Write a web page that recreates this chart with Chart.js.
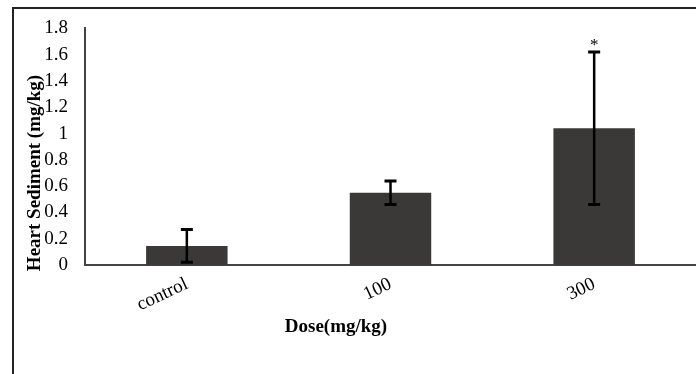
<!DOCTYPE html>
<html>
<head>
<meta charset="utf-8">
<script src="https://cdn.jsdelivr.net/npm/chart.js@4"></script>
<style>
  html, body { margin: 0; padding: 0; background: #fff; overflow: hidden; }
  #frame { position: absolute; left: 12px; top: 7px; width: 720px; height: 400px;
           border-left: 2px solid #222; border-top: 2px solid #222; }
  #wrap { position: absolute; left: 0; top: 0; width: 696px; height: 374px; }
</style>
</head>
<body>
<div id="frame"></div>
<div id="wrap"><canvas id="dose-chart" width="696" height="374"></canvas></div>
<script>
const doses = ['control', '100', '300'];
const sedimentMean = [0.145, 0.55, 1.04];
const sedimentErr = [0.125, 0.09, 0.58];
const signifMarks = ['', '', '*'];

const serif = '"Liberation Serif", "Times New Roman", serif';

// error bars + significance star, drawn from the data through the scales
const errorBars = {
    id: 'errorBars',
    afterDatasetsDraw(chart) {
        const { ctx, scales: { x, y } } = chart;
        ctx.save();
        ctx.strokeStyle = '#000';
        sedimentMean.forEach((m, i) => {
            const cx = x.getPixelForValue(i);
            const top = y.getPixelForValue(m + sedimentErr[i]);
            const bot = y.getPixelForValue(m - sedimentErr[i]);
            ctx.lineWidth = 2.5;
            ctx.beginPath();
            ctx.moveTo(cx, top); ctx.lineTo(cx, bot);
            ctx.stroke();
            ctx.lineWidth = 3;
            ctx.beginPath();
            ctx.moveTo(cx - 6, top); ctx.lineTo(cx + 6, top);
            ctx.moveTo(cx - 6, bot); ctx.lineTo(cx + 6, bot);
            ctx.stroke();
            if (signifMarks[i]) {
                ctx.fillStyle = '#000';
                ctx.font = '17px ' + serif;
                ctx.textAlign = 'center';
                ctx.textBaseline = 'bottom';
                ctx.fillText(signifMarks[i], cx, top + 2);
            }
        });
        ctx.restore();
    },
    afterDraw(chart) {
        const { ctx } = chart;
        ctx.save();
        ctx.fillStyle = '#000';
        ctx.font = 'bold 19px ' + serif;
        ctx.textAlign = 'center';
        ctx.textBaseline = 'middle';
        ctx.fillText('Dose(mg/kg)', 336, 327);
        ctx.translate(35, 173);
        ctx.rotate(-Math.PI / 2);
        ctx.fillText('Heart Sediment (mg/kg)', 0, 0);
        ctx.restore();
    }
};

new Chart(document.getElementById('dose-chart').getContext('2d'), {
    type: 'bar',
    data: {
        labels: doses,
        datasets: [{
            data: sedimentMean,
            backgroundColor: '#3a3937',
            barPercentage: 0.4,
            categoryPercentage: 1
        }]
    },
    options: {
        responsive: false,
        animation: false,
        layout: { padding: { left: 27, top: 28, right: 0, bottom: 0 } },
        plugins: { legend: { display: false }, tooltip: { enabled: false } },
        scales: {
            x: {
                afterFit: s => { s.height = 109; },
                grid: { display: false, drawTicks: false },
                border: { color: '#444', width: 2 },
                ticks: {
                    color: '#000',
                    font: { family: serif, size: 19 },
                    maxRotation: 25, minRotation: 25,
                    padding: 8
                }
            },
            y: {
                min: 0, max: 1.8,
                afterFit: s => { s.width = 58; },
                grid: { display: false, drawTicks: false },
                border: { color: '#444', width: 2 },
                ticks: {
                    stepSize: 0.2,
                    color: '#000',
                    font: { family: serif, size: 19 },
                    padding: 17,
                    callback: v => String(Math.round(v * 10) / 10)
                }
            }
        }
    },
    plugins: [errorBars]
});
</script>
</body>
</html>
